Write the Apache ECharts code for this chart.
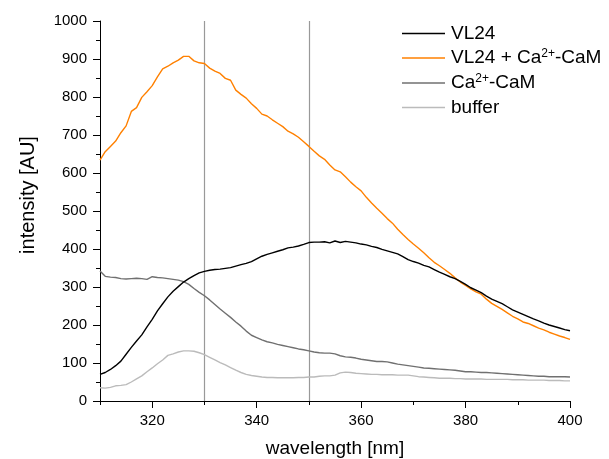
<!DOCTYPE html>
<html>
<head>
<meta charset="utf-8">
<script src="https://cdn.jsdelivr.net/npm/echarts@6/dist/echarts.min.js"></script>
<style>
  html, body { margin: 0; padding: 0; background: #fff; }
  #chart { width: 609px; height: 459px; }
</style>
</head>
<body>
<div id="chart"></div>
<script>
// Emission wavelengths, 310-400 nm in 1 nm steps
const wavelengths = [];
for (let w = 310; w <= 400; w++) wavelengths.push(w);

// Fluorescence intensity [AU] per sample
const vl24 = [
  70, 75, 83, 93, 105, 123, 141, 158, 174, 195,
  215, 237, 256, 274, 289, 301, 313, 322, 330, 337,
  341, 344, 346, 347, 349, 351, 355, 359, 362, 367,
  374, 381, 386, 390, 394, 398, 403, 405, 408, 412,
  417, 418, 418, 419, 416, 421, 417, 420, 418, 416,
  413, 411, 407, 404, 399, 395, 391, 387, 380, 372,
  367, 363, 357, 353, 346, 339, 333, 327, 322, 315,
  307, 298, 292, 285, 276, 268, 262, 256, 248, 240,
  234, 228, 222, 216, 211, 205, 200, 196, 192, 188,
  185
];
const vl24CaM = [
  634, 656, 670, 684, 706, 724, 762, 772, 799, 814,
  830, 853, 874, 881, 890, 897, 907, 907, 895, 890,
  888, 876, 868, 862, 849, 844, 818, 807, 797, 782,
  770, 755, 750, 740, 731, 722, 710, 703, 694, 682,
  670, 657, 645, 636, 621, 608, 603, 590, 576, 564,
  553, 536, 521, 507, 494, 480, 468, 452, 438, 425,
  413, 402, 390, 377, 365, 356, 346, 336, 324, 313,
  304, 295, 287, 281, 268, 257, 249, 241, 232, 223,
  216, 208, 204, 198, 192, 187, 181, 176, 171, 167,
  162
];
const caCaM = [
  342, 328, 326, 325, 322, 321, 322, 323, 322, 320,
  327, 325, 324, 322, 320, 318, 314, 307, 296, 286,
  277, 266, 254, 242, 231, 220, 208, 197, 184, 173,
  167, 161, 156, 153, 149, 146, 143, 140, 137, 135,
  132, 129, 127, 126, 126, 124, 119, 116, 115, 113,
  110, 108, 106, 104, 104, 103, 100, 97, 95, 93,
  91, 89, 87, 86, 85, 84, 83, 82, 81, 79,
  77, 77, 76, 75, 75, 74, 73, 72, 71, 70,
  69, 68, 67, 66, 65, 65, 64, 64, 64, 64,
  63
];
const buffer = [
  35, 34, 36, 40, 41, 43, 50, 58, 66, 77,
  87, 98, 108, 120, 124, 129, 132, 132, 131, 127,
  122, 115, 108, 101, 95, 88, 81, 75, 70, 67,
  65, 63, 62, 62, 61, 61, 61, 61, 62, 62,
  63, 63, 65, 66, 66, 68, 74, 76, 75, 73,
  72, 71, 70, 70, 69, 69, 69, 68, 68, 68,
  66, 64, 63, 62, 61, 60, 60, 60, 59, 59,
  58, 58, 58, 58, 57, 57, 57, 57, 57, 56,
  56, 56, 55, 55, 55, 55, 54, 54, 54, 53,
  53
];

// Reference wavelengths marked by vertical lines
const markerWavelengths = [330, 350];

// Axis tick values
const xMajorTicks = [320, 340, 360, 380, 400];
const xMinorTicks = [310, 330, 350, 370, 390];

const seriesNames = ['VL24', 'VL24 + Ca2+-CaM', 'Ca2+-CaM', 'buffer'];
const seriesColors = ['#000000', '#ff8000', '#707070', '#bbbbbb'];
const seriesValues = [vl24, vl24CaM, caCaM, buffer];

const FONT = 'Liberation Sans, Arial, sans-serif';

const chart = echarts.init(document.getElementById('chart'), null, { renderer: 'canvas' });

const series = seriesNames.map((name, i) => ({
  name: name,
  type: 'line',
  xAxisIndex: 0,
  data: wavelengths.map((w, k) => [w, seriesValues[i][k]]),
  symbol: 'none',
  smooth: false,
  lineStyle: { color: seriesColors[i], width: 1.4 },
  itemStyle: { color: seriesColors[i] },
  z: 10 - i,
  animation: false
}));

series[0].markLine = {
  silent: true,
  symbol: 'none',
  label: { show: false },
  lineStyle: { color: '#999999', width: 1.2, type: 'solid' },
  data: markerWavelengths.map(v => ({ xAxis: v }))
};

// Names with "2+" get the charge drawn as a superscript
function legendLabel(name) {
  const m = name.split('2+');
  if (m.length === 1) return '{n|' + name + '}';
  return '{n|' + m[0] + '}{s|2+}{n|' + m[1] + '}';
}

chart.setOption({
  animation: false,
  backgroundColor: '#ffffff',
  grid: { left: 100, right: 39, top: 21, bottom: 58, containLabel: false, outerBoundsMode: 'none' },
  legend: {
    orient: 'vertical',
    left: 402,
    top: 24,
    padding: 0,
    icon: 'rect',
    itemWidth: 43,
    itemHeight: 1.6,
    itemGap: 5,
    data: seriesNames,
    formatter: legendLabel,
    textStyle: {
      color: '#000',
      fontFamily: FONT,
      fontSize: 19,
      padding: [0, 0, 0, 1],
      rich: {
        n: { fontFamily: FONT, fontSize: 19, lineHeight: 20, color: '#000' },
        s: { fontFamily: FONT, fontSize: 12, lineHeight: 20, color: '#000', verticalAlign: 'top', padding: [0, 0, 8, 0] }
      }
    }
  },
  xAxis: [
    {
      type: 'value',
      min: 310,
      max: 400,
      interval: 10,
      position: 'bottom',
      name: 'wavelength [nm]',
      nameLocation: 'middle',
      nameGap: 38,
      nameTextStyle: { fontFamily: FONT, fontSize: 19, color: '#000' },
      axisLine: { show: true, lineStyle: { color: '#000', width: 1 } },
      axisTick: { show: true, inside: false, length: 7, customValues: xMajorTicks, lineStyle: { color: '#000', width: 1 } },
      axisLabel: { show: true, customValues: xMajorTicks, margin: 12, fontFamily: FONT, fontSize: 15, color: '#000' },
      splitLine: { show: false }
    },
    {
      type: 'value',
      min: 310,
      max: 400,
      interval: 10,
      position: 'bottom',
      axisLine: { show: false },
      axisTick: { show: true, inside: false, length: 4, customValues: xMinorTicks, lineStyle: { color: '#000', width: 1 } },
      axisLabel: { show: false },
      splitLine: { show: false }
    }
  ],
  yAxis: {
    type: 'value',
    min: 0,
    max: 1000,
    interval: 100,
    name: 'intensity [AU]',
    nameLocation: 'middle',
    nameGap: 62,
    nameTextStyle: { fontFamily: FONT, fontSize: 20, color: '#000', padding: [0, 0, 0, 32] },
    axisLine: { show: true, lineStyle: { color: '#000', width: 1 } },
    axisTick: { show: true, inside: false, length: 7, lineStyle: { color: '#000', width: 1 } },
    minorTick: { show: true, splitNumber: 2, length: 4, lineStyle: { color: '#000', width: 1 } },
    axisLabel: { margin: 13, fontFamily: FONT, fontSize: 15, color: '#000', formatter: v => String(v) },
    splitLine: { show: false },
    minorSplitLine: { show: false }
  },
  series: series
});
</script>
</body>
</html>
